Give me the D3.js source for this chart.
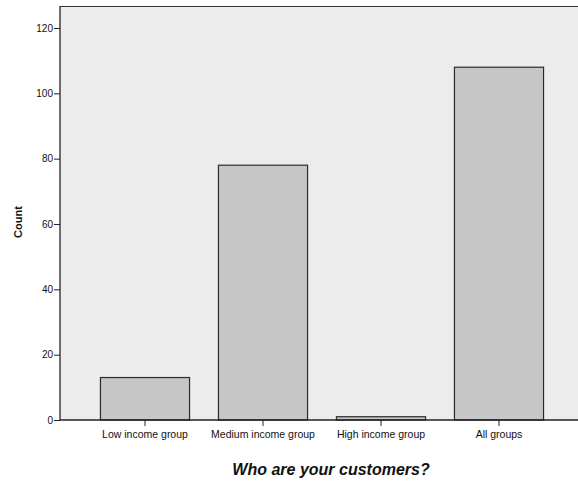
<!DOCTYPE html>
<html>
<head>
<meta charset="utf-8">
<script src="https://cdn.jsdelivr.net/npm/d3@7"></script>
<style>
  html, body { margin: 0; padding: 0; background: #fff; }
  svg { display: block; }
</style>
</head>
<body>
<svg id="chart" width="578" height="483"></svg>
<script>
// Customer groups and their counts
const categories = ["Low income group", "Medium income group", "High income group", "All groups"];
const counts = [13, 78, 1, 108];
const yTicks = [0, 20, 40, 60, 80, 100, 120];

const svg = d3.select("#chart");
const plot = { left: 60, top: 6, right: 578, bottom: 420 };
const font = "Arial, 'Liberation Sans', sans-serif";

const y = d3.scaleLinear().domain([0, 120]).range([plot.bottom, 28]);
const x = d3.scaleBand()
  .domain(categories)
  .range([86, 558])
  .paddingInner(0.245)
  .paddingOuter(0.1225);

// plot area background
svg.append("rect")
  .attr("x", plot.left).attr("y", plot.top)
  .attr("width", plot.right - plot.left).attr("height", plot.bottom - plot.top)
  .attr("fill", "#ececec");

// top frame line
svg.append("line")
  .attr("x1", plot.left).attr("x2", plot.right)
  .attr("y1", plot.top + 0.5).attr("y2", plot.top + 0.5)
  .attr("stroke", "#333").attr("stroke-width", 1.2);

// bars
svg.append("g").selectAll("rect")
  .data(categories)
  .join("rect")
  .attr("x", d => x(d))
  .attr("y", (d, i) => y(counts[i]))
  .attr("width", x.bandwidth())
  .attr("height", (d, i) => y(0) - y(counts[i]))
  .attr("fill", "#c6c6c6")
  .attr("stroke", "#2a2a2a")
  .attr("stroke-width", 1.2);

// y axis
const yAxis = svg.append("g")
  .attr("transform", `translate(${plot.left},0)`)
  .call(d3.axisLeft(y).tickValues(yTicks).tickSize(6).tickPadding(1));
yAxis.select(".domain").remove();
yAxis.append("line")
  .attr("x1", 0).attr("x2", 0)
  .attr("y1", plot.top).attr("y2", plot.bottom)
  .attr("stroke", "#222").attr("stroke-width", 1.3);
yAxis.selectAll(".tick line").attr("stroke", "#222");
yAxis.selectAll(".tick text")
  .attr("font-family", font)
  .attr("font-size", 10).attr("fill", "#111");

// x axis
const xAxis = svg.append("g")
  .attr("transform", `translate(0,${plot.bottom})`)
  .call(d3.axisBottom(x).tickSize(6).tickPadding(5).tickSizeOuter(0));
xAxis.select(".domain").remove();
xAxis.append("line")
  .attr("x1", plot.left).attr("x2", plot.right)
  .attr("y1", 0).attr("y2", 0)
  .attr("stroke", "#222").attr("stroke-width", 1.3);
xAxis.selectAll(".tick line").attr("stroke", "#222");
xAxis.selectAll(".tick text")
  .attr("font-family", font)
  .attr("font-size", 10.5).attr("fill", "#111");

// axis titles
svg.append("text")
  .attr("transform", "translate(22,222) rotate(-90)")
  .attr("text-anchor", "middle")
  .attr("font-family", font)
  .attr("font-size", 11).attr("font-weight", "bold").attr("fill", "#111")
  .text("Count");

svg.append("text")
  .attr("x", 331).attr("y", 475)
  .attr("text-anchor", "middle")
  .attr("font-family", font)
  .attr("font-size", 16).attr("font-weight", "bold").attr("font-style", "italic").attr("fill", "#111")
  .text("Who are your customers?");
</script>
</body>
</html>
